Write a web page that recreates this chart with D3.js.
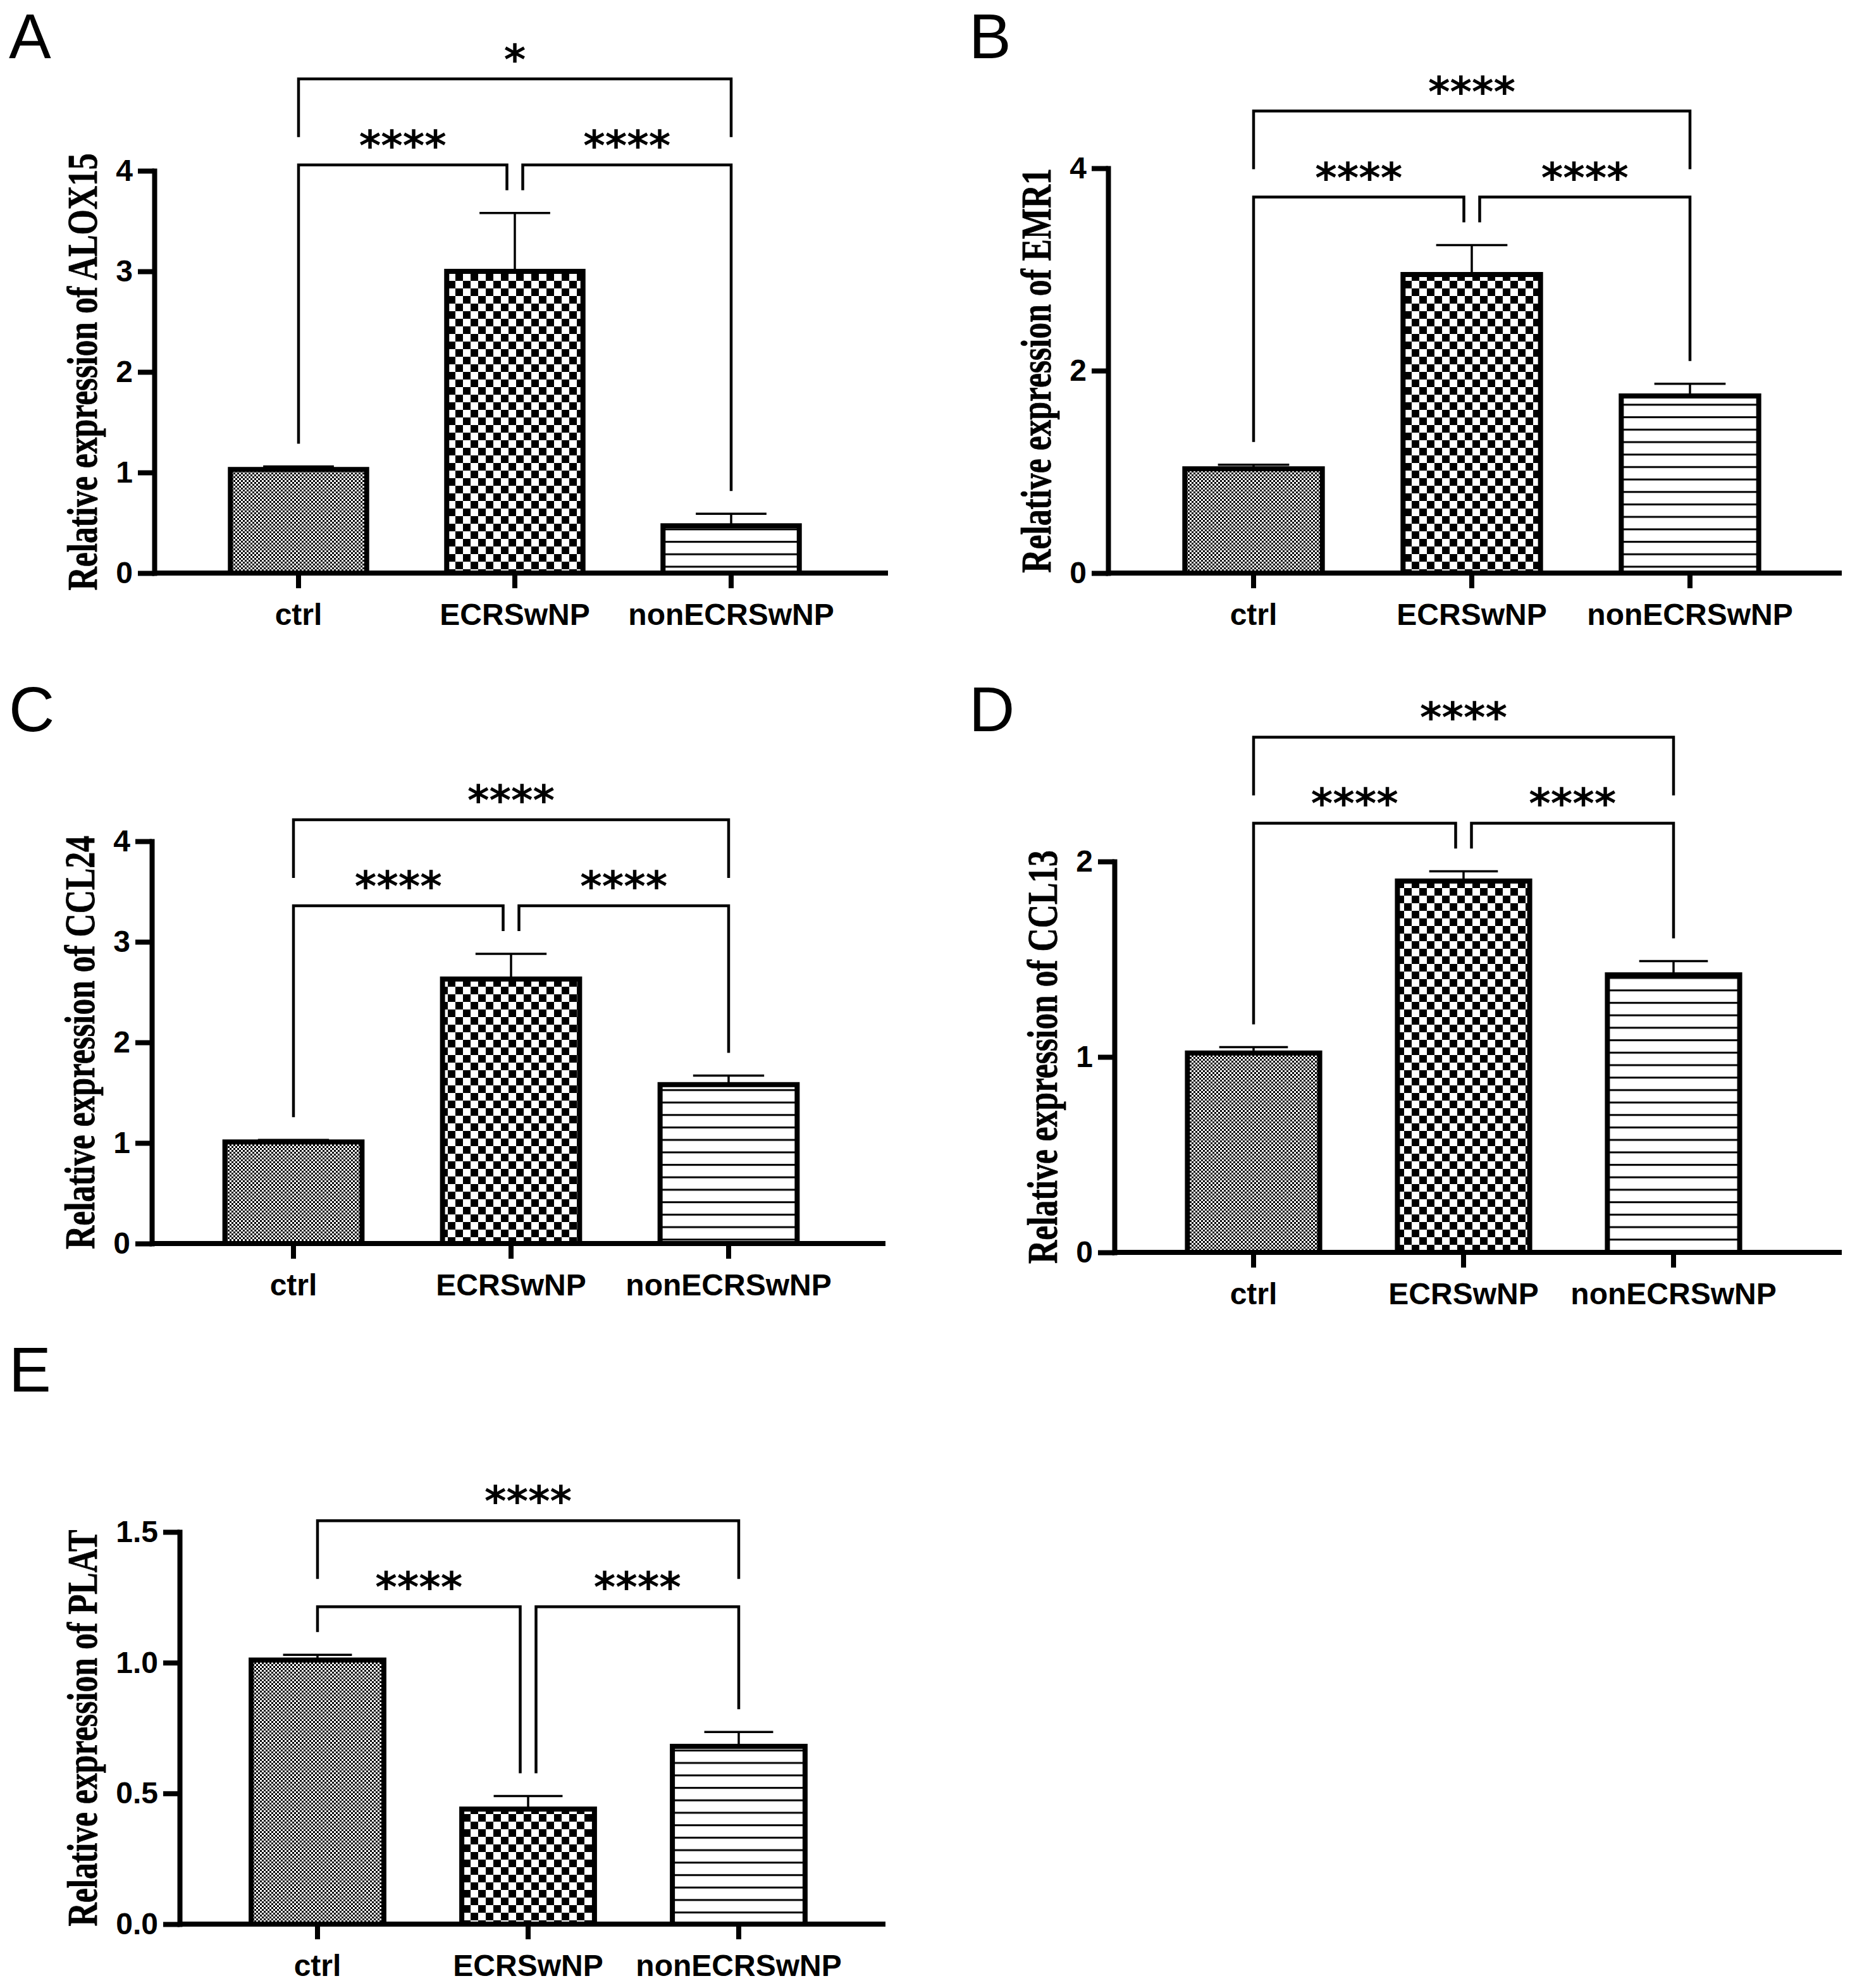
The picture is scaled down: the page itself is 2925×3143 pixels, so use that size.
<!DOCTYPE html>
<html lang="en">
<head>
<meta charset="utf-8">
<title>Relative expression in ctrl, ECRSwNP and nonECRSwNP</title>
<script src="https://cdn.jsdelivr.net/npm/d3@7"></script>
<style>
body { margin: 0; background: #fff; }
</style>
</head>
<body>
<script>
var categories = ["ctrl", "ECRSwNP", "nonECRSwNP"];
var genes = ["ALOX15", "EMR1", "CCL24", "CCL13", "PLAT"];
var panelLetters = ["A", "B", "C", "D", "E"];

// mean and SD (upper error bar)
var alox15Mean = [1.03, 3.00, 0.47], alox15Sd = [0.03, 0.58, 0.12];
var emr1Mean   = [1.03, 2.95, 1.75], emr1Sd   = [0.04, 0.29, 0.12];
var ccl24Mean  = [1.01, 2.63, 1.58], ccl24Sd  = [0.02, 0.25, 0.09];
var ccl13Mean  = [1.02, 1.90, 1.42], ccl13Sd  = [0.03, 0.05, 0.07];
var platMean   = [1.01, 0.44, 0.68], platSd   = [0.02, 0.05, 0.055];

var alox15Ticks = [0, 1, 2, 3, 4];
var emr1Ticks   = [0, 2, 4];
var ccl24Ticks  = [0, 1, 2, 3, 4];
var ccl13Ticks  = [0, 1, 2];
var platTicks   = [0, 0.5, 1.0, 1.5];

// ctrl vs ECRSwNP, ECRSwNP vs nonECRSwNP, ctrl vs nonECRSwNP
var alox15Sig = ["****", "****", "*"];
var emr1Sig   = ["****", "****", "****"];
var ccl24Sig  = ["****", "****", "****"];
var ccl13Sig  = ["****", "****", "****"];
var platSig   = ["****", "****", "****"];

var W = 2925, H = 3143;
var sansFont = "'Liberation Sans', Arial, sans-serif";
var serifFont = "'Liberation Serif', 'Times New Roman', serif";

// where each panel sits on the page
var panels = [
  {mean: alox15Mean, sd: alox15Sd, ticks: alox15Ticks, sig: alox15Sig, fmt: "d",
   ax: 244, yTop: 270, y0: 906, xEnd: 1404, c0: 472, step: 342, lx: 14, ly: 92},
  {mean: emr1Mean, sd: emr1Sd, ticks: emr1Ticks, sig: emr1Sig, fmt: "d",
   ax: 1752, yTop: 266, y0: 906, xEnd: 2912, c0: 1982, step: 345, lx: 1532, ly: 92},
  {mean: ccl24Mean, sd: ccl24Sd, ticks: ccl24Ticks, sig: ccl24Sig, fmt: "d",
   ax: 240, yTop: 1330, y0: 1966, xEnd: 1400, c0: 464, step: 344, lx: 14, ly: 1156},
  {mean: ccl13Mean, sd: ccl13Sd, ticks: ccl13Ticks, sig: ccl13Sig, fmt: "d",
   ax: 1762, yTop: 1362, y0: 1980, xEnd: 2912, c0: 1982, step: 332, lx: 1532, ly: 1156},
  {mean: platMean, sd: platSd, ticks: platTicks, sig: platSig, fmt: ".1f",
   ax: 284, yTop: 2422, y0: 3042, xEnd: 1400, c0: 502, step: 333, lx: 14, ly: 2200}
];
panels.forEach(function(p, i){ p.letter = panelLetters[i]; p.gene = genes[i]; });

var svg = d3.select("body").append("svg")
  .attr("width", W).attr("height", H);

svg.append("rect").attr("width", W).attr("height", H).attr("fill", "#fff");

var defs = svg.append("defs");

// fine dotted fill for ctrl
var pCtrl = defs.append("pattern").attr("id", "pCtrl")
  .attr("patternUnits", "userSpaceOnUse").attr("width", 6).attr("height", 6);
pCtrl.append("rect").attr("width", 6).attr("height", 6).attr("fill", "#fff");
pCtrl.append("rect").attr("width", 3).attr("height", 3).attr("fill", "#000");
pCtrl.append("rect").attr("x", 3).attr("y", 3).attr("width", 3).attr("height", 3).attr("fill", "#000");

// coarse checkerboard for ECRSwNP
var pEcrs = defs.append("pattern").attr("id", "pEcrs")
  .attr("patternUnits", "userSpaceOnUse").attr("width", 24).attr("height", 24);
pEcrs.append("rect").attr("width", 24).attr("height", 24).attr("fill", "#fff");
pEcrs.append("rect").attr("width", 12).attr("height", 12).attr("fill", "#000");
pEcrs.append("rect").attr("x", 12).attr("y", 12).attr("width", 12).attr("height", 12).attr("fill", "#000");

// horizontal lines for nonECRSwNP
var pNon = defs.append("pattern").attr("id", "pNon")
  .attr("patternUnits", "userSpaceOnUse").attr("width", 10).attr("height", 19.7);
pNon.append("rect").attr("width", 10).attr("height", 19.7).attr("fill", "#fff");
pNon.append("rect").attr("y", 8).attr("width", 10).attr("height", 3).attr("fill", "#000");

var fills = ["url(#pCtrl)", "url(#pEcrs)", "url(#pNon)"];

function drawPanel(p) {
  var g = svg.append("g");

  var y = d3.scaleLinear().domain([0, d3.max(p.ticks)]).range([p.y0, p.yTop]);
  var x = d3.scaleBand().domain(categories)
    .range([p.c0 - p.step / 2, p.c0 + p.step * 2.5])
    .paddingInner(0.37).paddingOuter(0.185);
  var cx = function(c){ return x(c) + x.bandwidth() / 2; };

  var rows = categories.map(function(c, i){
    return {cat: c, mean: p.mean[i], sd: p.sd[i]};
  });

  // error bars (upper only)
  var capW = (x.bandwidth() + 8) / 2;
  var eb = g.selectAll("g.err").data(rows).enter().append("g");
  eb.append("line")
    .attr("x1", function(d){ return cx(d.cat); })
    .attr("x2", function(d){ return cx(d.cat); })
    .attr("y1", function(d){ return y(d.mean); })
    .attr("y2", function(d){ return y(d.mean + d.sd); })
    .attr("stroke", "#000").attr("stroke-width", 3.5);
  eb.append("line")
    .attr("x1", function(d){ return cx(d.cat) - capW / 2; })
    .attr("x2", function(d){ return cx(d.cat) + capW / 2; })
    .attr("y1", function(d){ return y(d.mean + d.sd); })
    .attr("y2", function(d){ return y(d.mean + d.sd); })
    .attr("stroke", "#000").attr("stroke-width", 3.5);

  // bars
  g.selectAll("rect.bar").data(rows).enter().append("rect")
    .attr("class", "bar")
    .attr("x", function(d){ return x(d.cat); })
    .attr("y", function(d){ return y(d.mean); })
    .attr("width", x.bandwidth())
    .attr("height", function(d){ return p.y0 - y(d.mean); })
    .attr("fill", function(d, i){ return fills[i]; })
    .attr("stroke", "#000").attr("stroke-width", 8);

  // x axis
  g.append("line")
    .attr("x1", p.ax).attr("x2", p.xEnd)
    .attr("y1", p.y0).attr("y2", p.y0)
    .attr("stroke", "#000").attr("stroke-width", 8);
  var xAxis = g.append("g").attr("transform", "translate(0," + p.y0 + ")")
    .call(d3.axisBottom(x).tickSize(24).tickPadding(24));
  xAxis.select(".domain").remove();
  xAxis.selectAll(".tick line").attr("stroke", "#000").attr("stroke-width", 8);
  xAxis.selectAll(".tick text")
    .attr("font-family", sansFont).attr("font-weight", "bold")
    .attr("font-size", 48).attr("fill", "#000");

  // y axis
  var yAxis = g.append("g").attr("transform", "translate(" + p.ax + ",0)")
    .call(d3.axisLeft(y).tickValues(p.ticks).tickSize(26).tickSizeOuter(0)
      .tickPadding(8).tickFormat(d3.format(p.fmt)));
  yAxis.select(".domain").attr("stroke", "#000").attr("stroke-width", 8)
    .attr("stroke-linecap", "square");
  yAxis.selectAll(".tick line").attr("stroke", "#000").attr("stroke-width", 8);
  yAxis.selectAll(".tick text")
    .attr("font-family", sansFont).attr("font-weight", "bold")
    .attr("font-size", 48).attr("fill", "#000");

  // y label, condensed bold serif like the original export
  var bb = yAxis.node().getBBox();
  var labelX = p.ax + bb.x - 30;
  g.append("text")
    .attr("transform", "translate(" + labelX + "," + (p.y0 + p.yTop) / 2 + ") rotate(-90) scale(0.77,1)")
    .attr("text-anchor", "middle")
    .attr("font-family", serifFont).attr("font-weight", "bold")
    .attr("font-size", 67).attr("fill", "#000")
    .attr("stroke", "#000").attr("stroke-width", 0.8)
    .text("Relative expression of " + p.gene);

  // significance brackets
  var tops = rows.map(function(d){ return y(d.mean + d.sd); });
  var c = categories.map(cx);
  var innerY = d3.min(tops) - 76;
  var outerY = innerY - 136;
  var gap = 12.5, leg = 36, starOff = 46;

  var brackets = [
    [[c[0], tops[0] - leg], [c[0], innerY], [c[1] - gap, innerY], [c[1] - gap, tops[1] - leg]],
    [[c[1] + gap, tops[1] - leg], [c[1] + gap, innerY], [c[2], innerY], [c[2], tops[2] - leg]],
    [[c[0], innerY - 44], [c[0], outerY], [c[2], outerY], [c[2], innerY - 44]]
  ];
  g.selectAll("path.br").data(brackets).enter().append("path")
    .attr("d", d3.line())
    .attr("fill", "none").attr("stroke", "#000").attr("stroke-width", 4.5);

  var starPos = [
    [(c[0] + c[1] - gap) / 2, innerY - starOff],
    [(c[1] + gap + c[2]) / 2, innerY - starOff],
    [(c[0] + c[2]) / 2, outerY - starOff]
  ];
  g.selectAll("text.sig").data(p.sig).enter().append("text")
    .attr("x", function(d, i){ return starPos[i][0]; })
    .attr("y", function(d, i){ return starPos[i][1] + 38; })
    .attr("text-anchor", "middle")
    .attr("font-family", "'DejaVu Sans', sans-serif").attr("font-weight", "bold")
    .attr("font-size", 66).attr("fill", "#000")
    .text(function(d){ return d; });

  // panel letter
  svg.append("text")
    .attr("x", p.lx).attr("y", p.ly)
    .attr("font-family", sansFont).attr("font-size", 100).attr("fill", "#000")
    .text(p.letter);
}

panels.forEach(drawPanel);
</script>
</body>
</html>
